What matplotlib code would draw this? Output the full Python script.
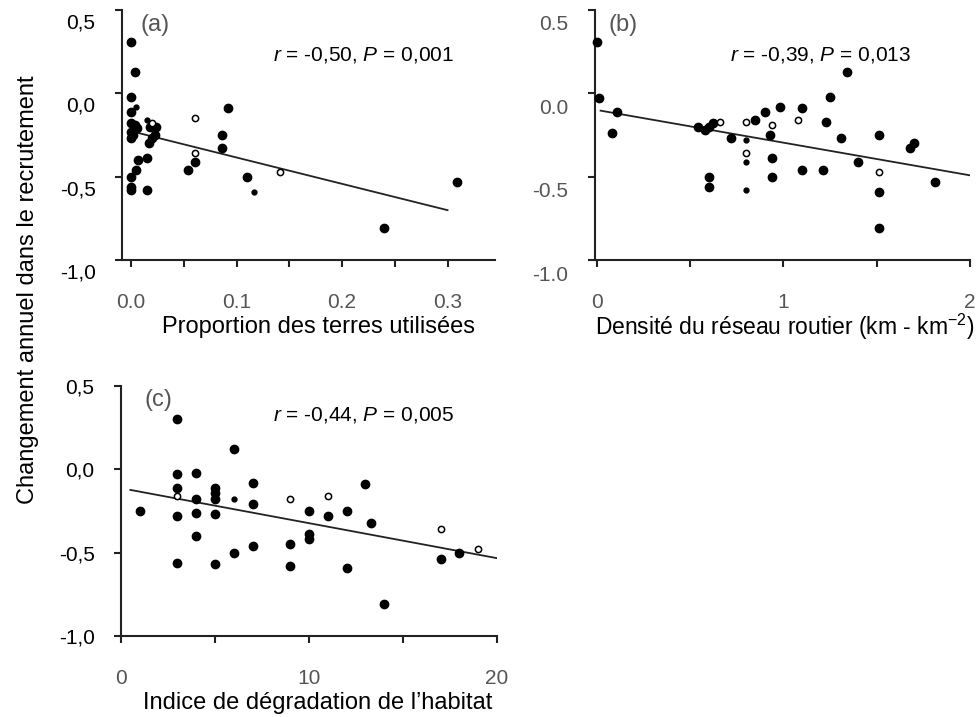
import matplotlib
matplotlib.use("Agg")
import matplotlib.pyplot as plt
import matplotlib.transforms as mtransforms
import numpy as np

plt.rcParams["font.family"] = ["Liberation Sans", "DejaVu Sans"]
plt.rcParams["mathtext.fontset"] = "custom"
plt.rcParams["mathtext.rm"] = "Liberation Sans"
plt.rcParams["mathtext.it"] = "Liberation Sans:italic"

# ---- data ----
# (a) proportion of land used
a_x = [0, 0.004, 0, 0, 0, 0.004, 0, 0.002, 0, 0.006, 0.018, 0.024, 0.023, 0.020, 0.017,
       0.015, 0.007, 0.005, 0, 0, 0, 0.015, 0.054, 0.061, 0.086, 0.086, 0.092, 0.110, 0.240, 0.309]
a_y = [0.31, 0.13, -0.02, -0.11, -0.18, -0.19, -0.23, -0.25, -0.27, -0.21, -0.20, -0.20, -0.25, -0.27, -0.30,
       -0.39, -0.40, -0.46, -0.50, -0.56, -0.58, -0.58, -0.46, -0.41, -0.25, -0.33, -0.09, -0.50, -0.81, -0.53]
a_small_x = [0.005, 0.015, 0.117]
a_small_y = [-0.08, -0.16, -0.59]
a_open_x = [0.020, 0.061, 0.061, 0.141]
a_open_y = [-0.18, -0.15, -0.36, -0.47]
a_fit = (-0.227, -1.58, 0.0, 0.30)   # intercept, slope, x from, x to

# (b) road density
b_x = [0, 0.01, 0.11, 0.08, 0.54, 0.58, 0.60, 0.62, 0.60, 0.60, 0.72, 0.85, 0.90, 0.93, 0.94, 0.94,
       0.98, 1.10, 1.10, 1.21, 1.23, 1.25, 1.31, 1.34, 1.40, 1.51, 1.51, 1.51, 1.68, 1.70, 1.81]
b_y = [0.31, -0.03, -0.11, -0.24, -0.20, -0.22, -0.20, -0.18, -0.50, -0.56, -0.27, -0.16, -0.11, -0.25, -0.39, -0.50,
       -0.08, -0.09, -0.46, -0.46, -0.17, -0.02, -0.27, 0.13, -0.41, -0.25, -0.59, -0.81, -0.33, -0.30, -0.53]
b_small_x = [0.80, 0.80, 0.80]
b_small_y = [-0.28, -0.41, -0.58]
b_open_x = [0.66, 0.80, 0.80, 0.94, 1.08, 1.51]
b_open_y = [-0.17, -0.17, -0.36, -0.19, -0.16, -0.47]
b_fit = (-0.10, -0.196, 0.02, 2.0)

# (c) habitat degradation index
c_x = [1, 3, 3, 3, 3, 3, 4, 4, 4, 4, 5, 5, 5, 5, 5, 6, 6, 7, 7, 7, 9, 9, 10, 10, 10,
       11, 12, 12, 13, 13.3, 14, 17, 18]
c_y = [-0.25, 0.30, -0.03, -0.11, -0.28, -0.56, -0.02, -0.18, -0.26, -0.40, -0.11, -0.14, -0.18, -0.27, -0.57,
       0.12, -0.50, -0.08, -0.21, -0.46, -0.45, -0.58, -0.25, -0.39, -0.42,
       -0.28, -0.25, -0.59, -0.09, -0.32, -0.81, -0.54, -0.50]
c_small_x = [6]
c_small_y = [-0.18]
c_open_x = [3, 9, 11, 17, 19]
c_open_y = [-0.16, -0.18, -0.16, -0.36, -0.48]
c_fit = (-0.113, -0.021, 0.5, 20.0)

y_ticks = [-1.0, -0.5, 0.0, 0.5]
y_labels_comma = ["-1,0", "-0,5", "0,0", "0,5"]
y_labels_dot = ["-1.0", "-0.5", "0.0", "0.5"]

W, H = 977, 717
fig = plt.figure(figsize=(W / 100, H / 100), dpi=100)


def px(x0, y0, x1, y1):
    return [x0 / W, 1 - y1 / H, (x1 - x0) / W, (y1 - y0) / H]


def panel(rect, xs, ys, sx, sy, ox, oy, fit, xlim, xmaj, xmin, xlabels, ylabels, ylab_shift):
    ax = fig.add_axes(rect)
    ax.plot(xs, ys, "o", color="black", ms=6, clip_on=False, zorder=3)
    ax.plot(sx, sy, "o", color="black", ms=3.5, clip_on=False, zorder=3)
    ax.plot(ox, oy, "o", mfc="white", mec="black", ms=4.5, mew=1.1, clip_on=False, zorder=3)
    b0, b1, f0, f1 = fit
    lx = np.array([f0, f1])
    ax.plot(lx, b0 + b1 * lx, color="#222222", lw=1.3, zorder=2)
    ax.set_xlim(*xlim)
    ax.set_ylim(-1.0, 0.5)
    ax.spines[["top", "right"]].set_visible(False)
    for s in ("left", "bottom"):
        ax.spines[s].set_linewidth(1.5)
        ax.spines[s].set_color("#222222")
    ax.set_yticks(y_ticks)
    ax.set_yticklabels(ylabels, fontsize=15)
    ax.set_xticks(xmaj)
    ax.set_xticklabels(xlabels, fontsize=15, color="#555555")
    ax.set_xticks(xmin, minor=True)
    ax.tick_params(axis="both", which="both", length=5, width=1.5, color="#222222")
    ax.tick_params(axis="x", which="major", pad=19)
    ax.tick_params(axis="y", pad=14)
    off = mtransforms.ScaledTranslation(0, -ylab_shift / 100, fig.dpi_scale_trans)
    for t in ax.get_yticklabels():
        t.set_transform(t.get_transform() + off)
    return ax


ax_a = panel(px(122, 10, 495, 260), a_x, a_y, a_small_x, a_small_y, a_open_x, a_open_y, a_fit,
             (-0.0086, 0.345), [0.0, 0.1, 0.2, 0.3], [0.05, 0.15, 0.25],
             ["0.0", "0.1", "0.2", "0.3"], y_labels_comma, 11)
ax_b = panel(px(595, 10, 970, 260), b_x, b_y, b_small_x, b_small_y, b_open_x, b_open_y, b_fit,
             (-0.01, 2.0), [0, 1, 2], [0.5, 1.5],
             ["0", "1", "2"], y_labels_dot, 13)
for t in ax_b.get_yticklabels():
    t.set_color("#555555")
ax_c = panel(px(121, 386, 497, 636), c_x, c_y, c_small_x, c_small_y, c_open_x, c_open_y, c_fit,
             (0, 20), [0, 10, 20], [5, 15],
             ["0", "10", "20"], y_labels_comma, 0)

# panel tags and statistics
fig.text(140 / W, 1 - 25 / H, "(a)", fontsize=17, color="#555555", va="center")
fig.text(608 / W, 1 - 25 / H, "(b)", fontsize=17, color="#555555", va="center")
fig.text(145 / W, 1 - 400 / H, "(c)", fontsize=17, color="#555555", va="center")
fig.text(273 / W, 1 - 55 / H, r"$r$ = -0,50, $P$ = 0,001", fontsize=15, va="center")
fig.text(730 / W, 1 - 55 / H, r"$r$ = -0,39, $P$ = 0,013", fontsize=15, va="center")
fig.text(273 / W, 1 - 415 / H, r"$r$ = -0,44, $P$ = 0,005", fontsize=15, va="center")

# axis titles
fig.text(319 / W, 1 - 327 / H, "Proportion des terres utilisées", fontsize=17, ha="center", va="center")
fig.text(974 / W, 1 - 327 / H, r"Densité du réseau routier (km - km$^{-2}$)", fontsize=16.5,
         ha="right", va="center")
fig.text(318 / W, 1 - 703 / H, "Indice de dégradation de l\u2019habitat", fontsize=17, ha="center", va="center")
fig.text(28 / W, 1 - 290 / H, "Changement annuel dans le recrutement", fontsize=17,
         rotation=90, ha="center", va="center")

fig.savefig("out.png", dpi=100)
plt.close(fig)
